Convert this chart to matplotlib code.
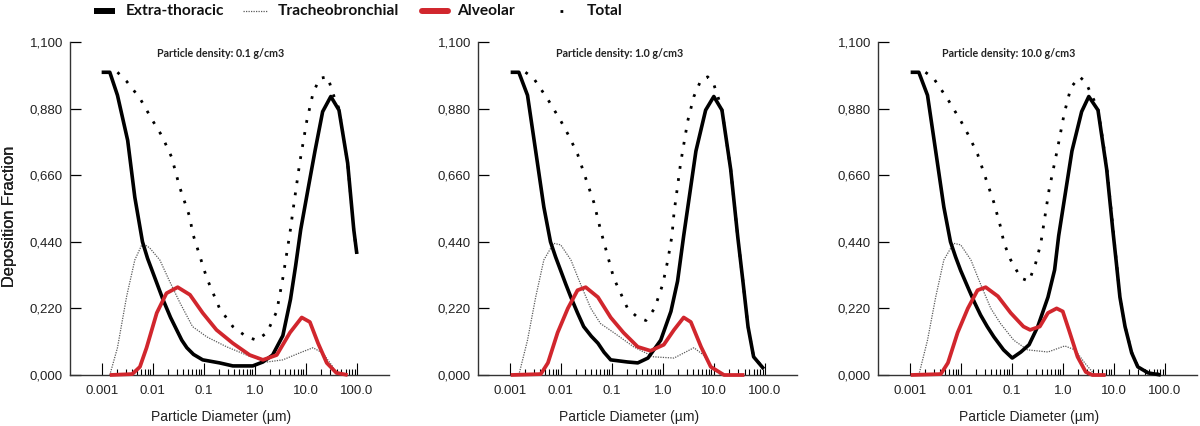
import numpy as np
import matplotlib
matplotlib.use("Agg")
import matplotlib.pyplot as plt
from matplotlib.lines import Line2D
from matplotlib.ticker import FixedLocator, FuncFormatter

# ---------------- data (log10 of particle diameter in µm, deposition fraction) -------------
densities = ["0.1", "1.0", "10.0"]

et1_logd = [-3.0, -2.84, -2.69, -2.49, -2.35, -2.2, -2.1, -2.0, -1.9, -1.8, -1.65, -1.53, -1.43, -1.33,
            -1.2, -1.02, -0.69, -0.43, -0.04, 0.16, 0.35, 0.55, 0.70, 0.80, 0.90, 1.05, 1.18, 1.33, 1.49,
            1.65, 1.82, 1.94, 2.0]
et1_val = [1.0, 1.0, 0.924, 0.775, 0.587, 0.44, 0.385, 0.34, 0.295, 0.25, 0.19, 0.149, 0.115, 0.09,
           0.068, 0.05, 0.04, 0.03, 0.03, 0.043, 0.066, 0.13, 0.25, 0.36, 0.48, 0.62, 0.74, 0.87, 0.92,
           0.875, 0.70, 0.48, 0.40]
tb1_logd = [-2.84, -2.69, -2.51, -2.35, -2.2, -2.06, -1.86, -1.67, -1.47, -1.22, -0.94, -0.55, -0.16,
            0.24, 0.55, 0.88, 1.14, 1.33, 1.53, 1.6]
tb1_val = [0.0, 0.09, 0.26, 0.38, 0.435, 0.42, 0.38, 0.31, 0.24, 0.16, 0.126, 0.093, 0.066,
           0.043, 0.05, 0.073, 0.09, 0.073, 0.027, 0.0]
al1_logd = [-2.84, -2.4, -2.25, -2.12, -1.92, -1.73, -1.51, -1.27, -1.02, -0.75, -0.43, -0.10, 0.16,
            0.43, 0.69, 0.92, 1.08, 1.24, 1.41, 1.6, 1.82]
al1_val = [0.0, 0.003, 0.027, 0.09, 0.205, 0.27, 0.29, 0.265, 0.205, 0.149, 0.105, 0.066, 0.05,
           0.066, 0.14, 0.19, 0.175, 0.105, 0.04, 0.007, 0.0]
tot1_logd = [-2.69, -2.51, -2.25, -2.0, -1.82, -1.63, -1.47, -1.27, -1.22, -0.94, -0.69, -0.43, -0.16,
             0.04, 0.24, 0.43, 0.55, 0.69, 0.75, 0.88, 1.02, 1.14, 1.27, 1.43, 1.53, 1.65, 1.82, 1.94, 2.0]
tot1_val = [1.0, 0.97, 0.914, 0.84, 0.79, 0.72, 0.62, 0.52, 0.47, 0.32, 0.22, 0.16, 0.126,
            0.115, 0.14, 0.21, 0.32, 0.47, 0.545, 0.70, 0.84, 0.93, 0.98, 0.985, 0.93, 0.88, 0.70, 0.48, 0.40]

et2_logd = [-2.98, -2.82, -2.65, -2.49, -2.33, -2.2, -2.1, -2.0, -1.9, -1.80, -1.67, -1.55, -1.4, -1.27,
            -1.15, -1.02, -0.69, -0.49, -0.29, -0.04, 0.16, 0.29, 0.41, 0.65, 0.84, 1.0, 1.16, 1.33, 1.47,
            1.57, 1.67, 1.78, 1.98]
et2_val = [1.0, 1.0, 0.924, 0.74, 0.555, 0.44, 0.39, 0.345, 0.30, 0.257, 0.205, 0.16, 0.128, 0.105,
           0.075, 0.05, 0.043, 0.04, 0.056, 0.115, 0.21, 0.31, 0.46, 0.74, 0.875, 0.92, 0.875, 0.68, 0.455,
           0.31, 0.16, 0.06, 0.02]
tb2_logd = [-2.82, -2.65, -2.49, -2.33, -2.14, -2.0, -1.80, -1.61, -1.41, -1.22, -0.96, -0.57, -0.18,
            0.22, 0.61, 0.80, 1.0, 1.14]
tb2_val = [0.0, 0.115, 0.257, 0.38, 0.435, 0.43, 0.38, 0.30, 0.22, 0.17, 0.14, 0.093, 0.06,
           0.056, 0.09, 0.066, 0.017, 0.0]
al2_logd = [-2.98, -2.39, -2.25, -2.06, -1.86, -1.67, -1.51, -1.27, -1.02, -0.77, -0.49, -0.24, 0.02,
            0.22, 0.41, 0.55, 0.75, 0.94, 1.2, 1.6]
al2_val = [0.0, 0.003, 0.04, 0.14, 0.22, 0.28, 0.29, 0.257, 0.19, 0.14, 0.093, 0.08, 0.10,
           0.149, 0.19, 0.175, 0.093, 0.027, 0.0, 0.0]
tot2_logd = [-2.69, -2.53, -2.25, -2.0, -1.84, -1.67, -1.51, -1.35, -1.22, -0.96, -0.69, -0.49, -0.33,
             -0.16, 0.0, 0.10, 0.18, 0.22, 0.35, 0.49, 0.61, 0.75, 0.88, 1.0, 1.08, 1.16, 1.33, 1.47,
             1.57, 1.67, 1.78, 1.98]
tot2_val = [1.0, 0.98, 0.91, 0.84, 0.79, 0.73, 0.65, 0.57, 0.48, 0.32, 0.22, 0.19, 0.18,
            0.22, 0.30, 0.38, 0.46, 0.535, 0.70, 0.84, 0.92, 0.975, 0.985, 0.96, 0.92, 0.875, 0.68, 0.455,
            0.31, 0.16, 0.06, 0.02]

et3_logd = [-2.98, -2.82, -2.65, -2.49, -2.33, -2.2, -2.1, -2.0, -1.86, -1.73, -1.61, -1.48, -1.35, -1.16,
            -0.99, -0.82, -0.66, -0.49, -0.29, -0.16, -0.08, 0.18, 0.37, 0.51, 0.69, 0.86, 0.98, 1.05,
            1.12, 1.22, 1.35, 1.47, 1.67, 1.92]
et3_val = [1.0, 1.0, 0.924, 0.74, 0.555, 0.44, 0.39, 0.345, 0.29, 0.24, 0.198, 0.16, 0.126, 0.083,
           0.056, 0.076, 0.1, 0.16, 0.257, 0.347, 0.46, 0.74, 0.87, 0.92, 0.875, 0.68, 0.48, 0.37,
           0.257, 0.16, 0.073, 0.027, 0.007, 0.0]
tb3_logd = [-2.82, -2.65, -2.49, -2.33, -2.14, -2.0, -1.80, -1.61, -1.41, -1.22, -0.96, -0.69, -0.29,
            0.04, 0.24, 0.43, 0.63]
tb3_val = [0.0, 0.115, 0.257, 0.38, 0.435, 0.43, 0.38, 0.30, 0.22, 0.17, 0.115, 0.083, 0.076,
           0.096, 0.083, 0.04, 0.0]
al3_logd = [-2.98, -2.39, -2.25, -2.06, -1.86, -1.67, -1.51, -1.27, -1.02, -0.77, -0.64, -0.45, -0.29,
            -0.12, 0.0, 0.12, 0.29, 0.45, 0.58, 0.84]
al3_val = [0.0, 0.003, 0.04, 0.14, 0.22, 0.28, 0.29, 0.26, 0.205, 0.16, 0.149, 0.16, 0.205,
           0.22, 0.21, 0.149, 0.06, 0.01, 0.0, 0.0]
tot3_logd = [-2.69, -2.53, -2.25, -2.0, -1.84, -1.67, -1.51, -1.35, -1.22, -1.15, -1.02, -0.82, -0.66,
             -0.53, -0.43, -0.27, -0.1, 0.03, 0.16, 0.33, 0.45, 0.55, 0.69, 0.86, 0.98, 1.12, 1.22, 1.35,
             1.47, 1.67, 1.92]
tot3_val = [1.0, 0.98, 0.91, 0.84, 0.79, 0.73, 0.65, 0.57, 0.49, 0.435, 0.38, 0.32, 0.31,
            0.37, 0.435, 0.61, 0.75, 0.865, 0.95, 0.985, 0.967, 0.93, 0.88, 0.69, 0.49, 0.26, 0.16, 0.075,
            0.028, 0.008, 0.002]

panels = [
    dict(et=(et1_logd, et1_val), tb=(tb1_logd, tb1_val), al=(al1_logd, al1_val), tot=(tot1_logd, tot1_val)),
    dict(et=(et2_logd, et2_val), tb=(tb2_logd, tb2_val), al=(al2_logd, al2_val), tot=(tot2_logd, tot2_val)),
    dict(et=(et3_logd, et3_val), tb=(tb3_logd, tb3_val), al=(al3_logd, al3_val), tot=(tot3_logd, tot3_val)),
]

x_major = [0.001, 0.01, 0.1, 1.0, 10.0, 100.0]
x_labels = ["0.001", "0.01", "0.1", "1.0", "10.0", "100.0"]
y_ticks = [0.0, 0.22, 0.44, 0.66, 0.88, 1.10]
legend_labels = ["Extra-thoracic", "Tracheobronchial", "Alveolar", "Total"]

# ---------------- style ----------------
RED = "#d1262d"
TXT_FONT = ["Liberation Sans", "DejaVu Sans"]
BOLD_FONT = ["Lato", "DejaVu Sans"]

W, H = 1200, 426
fig = plt.figure(figsize=(W / 100, H / 100), dpi=100)

ax_lefts = [70, 478, 878]
ax_w = 319
ax_bottom, ax_top = 375, 42
title_cx = [221, 620, 1009]

styles = dict(
    tb=dict(color="#5a5a5a", lw=0.9, ls=(0, (1, 1))),
    tot=dict(color="black", lw=2.0, ls=(0, (1, 3.4))),
    et=dict(color="black", lw=2.6, ls="-"),
    al=dict(color=RED, lw=2.7, ls="-"),
)

minor = [k * 10.0 ** e for e in range(-3, 2) for k in range(2, 10)]

for i, p in enumerate(panels):
    ax = fig.add_axes([ax_lefts[i] / W, 1 - ax_bottom / H, ax_w / W, (ax_bottom - ax_top) / H])
    for key in ["tb", "tot", "et", "al"]:
        lx, ly = p[key]
        st = styles[key]
        ax.plot(10.0 ** np.array(lx), ly, color=st["color"], lw=st["lw"], ls=st["ls"],
                solid_joinstyle="round", solid_capstyle="butt", clip_on=False, zorder=3)
    ax.set_xscale("log")
    ax.set_xlim(10 ** -3.62, 10 ** 2.63)
    ax.set_ylim(0, 1.1)
    ax.xaxis.set_major_locator(FixedLocator(x_major))
    ax.xaxis.set_minor_locator(FixedLocator(minor))
    ax.set_xticks(x_major)
    ax.set_xticklabels(x_labels)
    ax.xaxis.set_minor_formatter(FuncFormatter(lambda v, pos: ""))
    ax.set_yticks(y_ticks)
    ax.yaxis.set_major_formatter(FuncFormatter(lambda v, pos: f"{v:.3f}".replace(".", ",")))
    ax.tick_params(axis="x", which="major", direction="in", length=8.5, width=0.8, pad=7,
                   labelsize=9.5, colors="black")
    ax.tick_params(axis="x", which="minor", direction="in", length=4.5, width=0.8)
    ax.tick_params(axis="y", which="major", direction="in", length=8, width=0.9, pad=5,
                   labelsize=9.5)
    for lab in ax.get_xticklabels() + ax.get_yticklabels():
        lab.set_family(TXT_FONT)
        lab.set_color("#222222")
    for s in ["top", "right"]:
        ax.spines[s].set_visible(False)
    for s in ["left", "bottom"]:
        ax.spines[s].set_linewidth(1.0)
        ax.spines[s].set_color("#333333")
    ax.set_xlabel("Particle Diameter (µm)", family=TXT_FONT, fontsize=10, color="#222222")
    ax.xaxis.set_label_coords(0.475, -0.105)
    ax.set_ylabel("Deposition Fraction", family=TXT_FONT, fontsize=11.8, color="#222222")
    ax.yaxis.set_label_coords((17 - ax_lefts[i]) / ax_w, (ax_bottom - 216) / (ax_bottom - ax_top))
    ax.text((title_cx[i] - ax_lefts[i]) / ax_w, (ax_bottom - 53) / (ax_bottom - ax_top),
            f"Particle density: {densities[i]} g/cm3", transform=ax.transAxes,
            ha="center", va="center", family=BOLD_FONT, fontweight="bold", fontsize=7.7,
            color="#222222")

# ---------------- legend (figure level, top) ----------------
ly = 1 - 11 / H
handles = [
    ((94, 115), dict(color="black", lw=4.3, ls="-", solid_capstyle="butt")),
    ((243, 268), dict(color="#5a5a5a", lw=0.9, ls=(0, (1, 1)))),
    ((422, 448), dict(color=RED, lw=4.3, ls="-", solid_capstyle="round")),
    ((560, 576), dict(color="black", lw=2.0, ls=(0, (1, 5.5)))),
]
text_x = [126, 278, 457, 587]
for (x0, x1), st in handles:
    fig.add_artist(Line2D([x0 / W, x1 / W], [ly, ly], transform=fig.transFigure, **st))
for tx, lab in zip(text_x, legend_labels):
    fig.text(tx / W, ly, lab, ha="left", va="center", family=BOLD_FONT, fontweight="bold",
             fontsize=11.2, color="#111111")

fig.savefig("out.png", dpi=100)
